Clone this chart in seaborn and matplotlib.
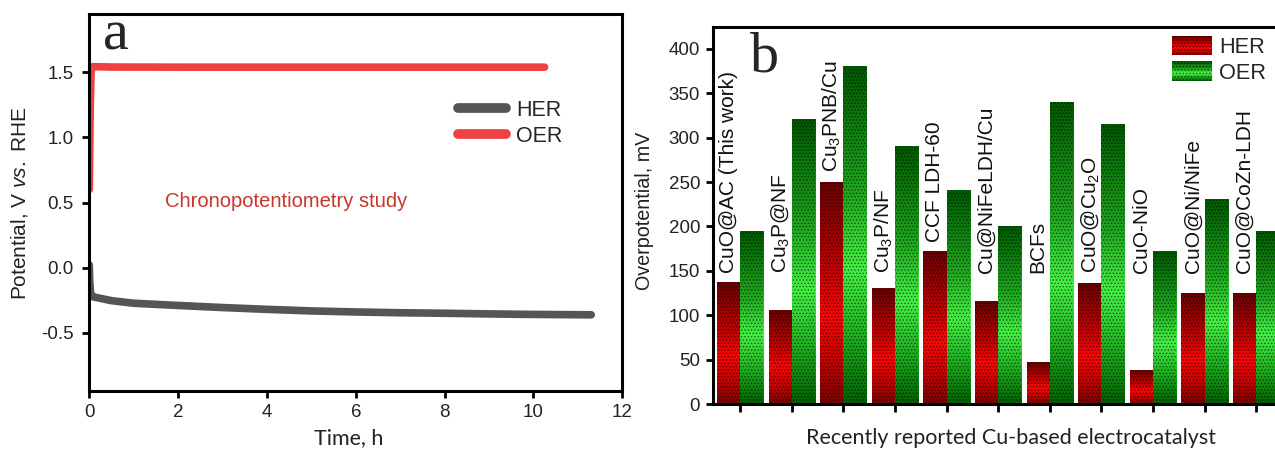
import numpy as np
import pandas as pd
import matplotlib
matplotlib.use("Agg")
import matplotlib.pyplot as plt
import seaborn as sns
from matplotlib.colors import LinearSegmentedColormap
from matplotlib.patches import Rectangle
from matplotlib.lines import Line2D
from matplotlib.legend_handler import HandlerBase

# ---------------- data ----------------
her_time = [0.0, 0.01, 0.03, 0.08, 0.5, 1.0, 2.0, 3.0, 4.0, 5.0, 6.0, 7.0, 8.0, 9.0, 10.0, 11.3]
her_potential = [0.02, -0.10, -0.20, -0.225, -0.255, -0.275, -0.292, -0.308, -0.322, -0.334,
                 -0.342, -0.348, -0.352, -0.357, -0.361, -0.364]
oer_time = [0.0, 0.02, 0.04, 0.07, 0.5, 2.0, 4.0, 6.0, 8.0, 10.25]
oer_potential = [0.60, 1.20, 1.50, 1.545, 1.542, 1.541, 1.541, 1.541, 1.541, 1.541]

catalysts = ["CuO@AC (This work)", r"Cu$_{\mathregular{3}}$P@NF", r"Cu$_{\mathregular{3}}$PNB/Cu",
             r"Cu$_{\mathregular{3}}$P/NF", "CCF LDH-60", "Cu@NiFeLDH/Cu", "BCFs",
             r"CuO@Cu$_{\mathregular{2}}$O", "CuO-NiO", "CuO@Ni/NiFe", "CuO@CoZn-LDH"]
her_overpotential = [137, 105, 250, 130, 172, 116, 47, 136, 38, 125, 125]
oer_overpotential = [194, 320, 380, 290, 240, 200, 340, 315, 172, 230, 194]

series_names = ["HER", "OER"]

# ---------------- style ----------------
sns.set_theme(style="white")
plt.rcParams["font.family"] = ["Liberation Sans", "DejaVu Sans"]
plt.rcParams["mathtext.fontset"] = "custom"
plt.rcParams["mathtext.rm"] = "Liberation Sans"
plt.rcParams["mathtext.it"] = "Liberation Sans:italic"
plt.rcParams["axes.unicode_minus"] = False
plt.rcParams["hatch.linewidth"] = 0.6

fig = plt.figure(figsize=(12.75, 4.5), dpi=100)
ax1 = fig.add_axes([0.0700, 0.1311, 0.4181, 0.8378])
ax2 = fig.add_axes([0.5595, 0.1022, 0.4468, 0.8385])

for ax in (ax1, ax2):
    for s in ax.spines.values():
        s.set_linewidth(2.2)
        s.set_color("black")
    ax.tick_params(direction="out", length=5, width=2.0, color="black",
                   labelsize=13.5, labelcolor="#222222", left=True, bottom=True)

# ---------------- panel a ----------------
df_line = pd.concat([
    pd.DataFrame({"Time": her_time, "Potential": her_potential, "Reaction": "HER"}),
    pd.DataFrame({"Time": oer_time, "Potential": oer_potential, "Reaction": "OER"}),
], ignore_index=True)
line_colors = {"HER": "#555555", "OER": "#ee4242"}
sns.lineplot(data=df_line, x="Time", y="Potential", hue="Reaction", palette=line_colors,
             sort=False, estimator=None, linewidth=5.5, legend=False, ax=ax1)
for ln in ax1.lines:
    ln.set_solid_capstyle("round")
ax1.set_xlim(0, 12)
ax1.set_ylim(-0.95, 1.95)
ax1.set_xticks(np.arange(0, 13, 2))
ax1.set_yticks([-0.5, 0.0, 0.5, 1.0, 1.5])
ax1.set_yticklabels(["-0.5", "0.0", "0.5", "1.0", "1.5"])
ax1.tick_params(axis="y", pad=6)
ax1.tick_params(axis="x", pad=4)
ax1.set_xlabel("Time, h", fontsize=15.5, family=["Lato", "DejaVu Sans"], color="#222222")
ax1.xaxis.label.set_va("center")
ax1.xaxis.set_label_coords(0.487, -0.125)
ax1.set_ylabel(r"Potential, V $\mathit{vs.}$ RHE", fontsize=15, color="#222222")
ax1.yaxis.label.set_va("center")
ax1.yaxis.set_label_coords(-0.130, 0.497)
ax1.text(1.7, 0.505, "Chronopotentiometry study", color="#c8372d", fontsize=14.5,
         family=["Liberation Sans Narrow", "Liberation Sans"], va="center", ha="left")
ax1.text(0.026, 0.9045, "a", transform=ax1.transAxes, fontsize=42,
         family=["Liberation Serif"], va="baseline", ha="left")
handles1 = [Line2D([], [], color=line_colors[k], lw=7, solid_capstyle="round") for k in series_names]
ax1.legend(handles1, series_names, loc="upper left", bbox_to_anchor=(0.692, 0.773),
           frameon=False, fontsize=15.5, handlelength=2.2, handletextpad=0.5,
           labelspacing=0.25, borderpad=0, borderaxespad=0)

# ---------------- panel b ----------------
df_bar = pd.DataFrame({
    "Catalyst": catalysts * 2,
    "Overpotential": her_overpotential + oer_overpotential,
    "Reaction": ["HER"] * len(catalysts) + ["OER"] * len(catalysts),
})
bar_palette = {"HER": "#cc0000", "OER": "#22bb22"}
sns.barplot(data=df_bar, x="Catalyst", y="Overpotential", hue="Reaction", order=catalysts,
            hue_order=series_names, palette=bar_palette, width=0.9, legend=False,
            errorbar=None, ax=ax2)

cmaps = {
    "HER": LinearSegmentedColormap.from_list("her", [(0, "#7a0000"), (0.2, "#c80000"), (0.4, "#f80808"),
                                                     (0.62, "#c00000"), (1, "#680000")]),
    "OER": LinearSegmentedColormap.from_list("oer", [(0, "#006000"), (0.2, "#1fb01f"), (0.4, "#44f044"),
                                                     (0.62, "#1fa81f"), (1, "#005800")]),
}
grad = np.linspace(0, 1, 256).reshape(-1, 1)
for name, cont in zip(series_names, ax2.containers):
    for bar in cont:
        x0, y0 = bar.get_xy()
        w, h = bar.get_width(), bar.get_height()
        ax2.imshow(grad, extent=(x0, x0 + w, y0, y0 + h), origin="lower", cmap=cmaps[name],
                   aspect="auto", interpolation="bilinear", zorder=1)
        bar.set_facecolor("none")
        bar.set_edgecolor((0, 0, 0, 0.55))
        bar.set_hatch(".....")
        bar.set_linewidth(0)
        bar.set_zorder(2)

her_bars = ax2.containers[0]
for bar, name, val in zip(her_bars, catalysts, her_overpotential):
    ax2.text(bar.get_x() + bar.get_width() / 2, max(val + 11, 147), name, rotation=90,
             ha="center", va="bottom", fontsize=15, color="#111111", zorder=3)

ax2.set_xlim(-0.52, 10.52)
ax2.set_ylim(0, 425)
ax2.set_yticks(np.arange(0, 401, 50))
ax2.tick_params(axis="x", labelbottom=False, length=5.5)
ax2.tick_params(axis="y", pad=4.5)
ax2.set_xlabel("Recently reported Cu-based electrocatalyst", fontsize=15.5,
               family=["Lato", "DejaVu Sans"], color="#222222")
ax2.xaxis.label.set_va("center")
ax2.xaxis.set_label_coords(0.5226, -0.090)
ax2.set_ylabel("Overpotential, mV", fontsize=14.2, color="#222222")
ax2.yaxis.label.set_va("center")
ax2.yaxis.set_label_coords(-0.1216, 0.5115)
ax2.text(0.0644, 0.8807, "b", transform=ax2.transAxes, fontsize=42,
         family=["Liberation Serif"], va="baseline", ha="left")


class GradientHandler(HandlerBase):
    def __init__(self, cmap):
        super().__init__()
        self.cmap = cmap

    def create_artists(self, legend, orig_handle, xdescent, ydescent, width, height,
                       fontsize, trans):
        arts = []
        n = 16
        for k in range(n):
            arts.append(Rectangle((-xdescent, -ydescent + k * height / n), width, height / n + 0.3,
                                  facecolor=self.cmap((k + 0.5) / n), edgecolor="none",
                                  transform=trans))
        arts.append(Rectangle((-xdescent, -ydescent), width, height, facecolor="none",
                              edgecolor=(0, 0, 0, 0.55), hatch=".....", lw=0, transform=trans))
        return arts


proxies = [Rectangle((0, 0), 1, 1, label=k) for k in series_names]
ax2.legend(proxies, series_names, loc="upper left", bbox_to_anchor=(0.8046, 0.975),
           frameon=False, fontsize=15.7, handlelength=1.87, handleheight=0.96,
           handletextpad=0.31, labelspacing=0.17, borderpad=0, borderaxespad=0,
           handler_map={proxies[0]: GradientHandler(cmaps["HER"]),
                        proxies[1]: GradientHandler(cmaps["OER"])})

fig.savefig("out.png", dpi=100)
